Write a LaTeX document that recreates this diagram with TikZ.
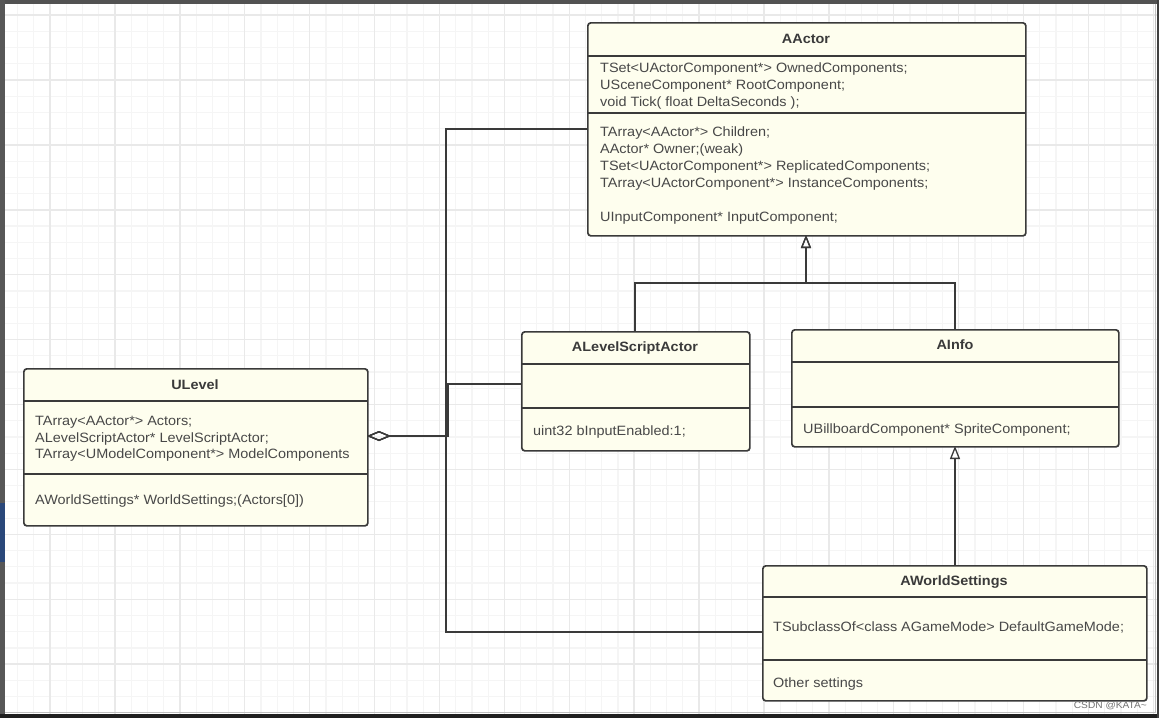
\documentclass[tikz,border=0pt]{standalone}
\usepackage{fontspec}
\setmainfont{Liberation Sans}[FakeStretch=1.07]
\usetikzlibrary{arrows.meta}
\definecolor{cream}{RGB}{254,254,238}
\definecolor{edge}{RGB}{58,58,58}
\definecolor{txt}{RGB}{72,72,72}
\definecolor{gminor}{RGB}{245,245,245}
\definecolor{gmajor}{RGB}{233,233,233}
\definecolor{navy}{RGB}{42,72,122}
\tikzset{
  classbox/.style={draw=edge, line width=1.7pt, fill=cream, rounded corners=3pt, anchor=north west, inner sep=0pt},
  divider/.style={draw=edge, line width=1.5pt},
  title/.style={font=\fontsize{13.5}{16}\selectfont\bfseries, text=txt!80!black, inner sep=0pt},
  attr/.style={font=\fontsize{13.5}{16.7}\selectfont, text=txt, anchor=base west, inner sep=0pt},
  conn/.style={draw=edge, line width=1.5pt},
  inh/.style={conn, -{Triangle[open, length=13pt, width=10pt, line width=1.3pt]}},
  agg/.style={conn, -{Diamond[open, length=24pt, width=10pt, line width=1.3pt]}},
}
\begin{document}
\begin{tikzpicture}[x=1pt, y=-1pt]
\useasboundingbox (0,0) rectangle (1159,718);
% background and grid
\fill[white] (0,0) rectangle (1159,718);
\foreach \i in {0,...,72} {
  \draw[gminor, line width=1.2pt] ({1.4+\i*16.225},0) -- ({1.4+\i*16.225},718);
}
\foreach \i in {0,...,45} {
  \draw[gminor, line width=1.2pt] (0,{-1.1+\i*16.225}) -- (1159,{-1.1+\i*16.225});
}
\foreach \i in {0,...,18} {
  \draw[gmajor, line width=1.4pt] ({50+\i*64.9-64.9},0) -- ({50+\i*64.9-64.9},718);
}
\foreach \i in {0,...,11} {
  \draw[gmajor, line width=1.4pt] (0,{80+\i*64.9-64.9}) -- (1159,{80+\i*64.9-64.9});
}
% frame
\fill[black!68] (0,0) rectangle (1159,3.5);
\fill[black!66] (0,0) rectangle (5,718);
\fill[black!88] (0,714) rectangle (1159,718);
\fill[black!75] (1157,0) rectangle (1159,718);
\draw[black!25, line width=1pt] (1155.5,3.5) -- (1155.5,713);
\draw[black!25, line width=1pt] (5,712.5) -- (1156,712.5);
\fill[navy] (0,503) rectangle (5,562);

% AActor
\node[classbox, minimum width=438pt, minimum height=213pt] (aactor) at (587,22) {};
\draw[divider] (587,56) -- (1025,56);
\draw[divider] (587,113) -- (1025,113);
\node[title] (aactorT) at (806,39) {AActor};
\node[attr] (aa1) at (600,72) {TSet<UActorComponent*> OwnedComponents;};
\node[attr] (aa2) at (600,89) {USceneComponent* RootComponent;};
\node[attr] (aa3) at (600,106) {void Tick( float DeltaSeconds );};
\node[attr] (aa4) at (600,136) {TArray<AActor*> Children;};
\node[attr] (aa5) at (600,153) {AActor* Owner;(weak)};
\node[attr] (aa6) at (600,170) {TSet<UActorComponent*> ReplicatedComponents;};
\node[attr] (aa7) at (600,187) {TArray<UActorComponent*> InstanceComponents;};
\node[attr] (aa8) at (600,221) {UInputComponent* InputComponent;};

% ULevel
\node[classbox, minimum width=344pt, minimum height=157pt] (ulevel) at (23,368) {};
\draw[divider] (23,401) -- (367,401);
\draw[divider] (23,474) -- (367,474);
\node[title] (ulevelT) at (195,385) {ULevel};
\node[attr] (ul1) at (35,425) {TArray<AActor*> Actors;};
\node[attr] (ul2) at (35,442) {ALevelScriptActor* LevelScriptActor;};
\node[attr] (ul3) at (35,458) {TArray<UModelComponent*> ModelComponents};
\node[attr] (ul4) at (35,504) {AWorldSettings* WorldSettings;(Actors[0])};

% ALevelScriptActor
\node[classbox, minimum width=228pt, minimum height=119pt] (alsa) at (521,331) {};
\draw[divider] (521,364) -- (749,364);
\draw[divider] (521,408) -- (749,408);
\node[title] (alsaT) at (635,348) {ALevelScriptActor};
\node[attr] (al1) at (533,435) {uint32 bInputEnabled:1;};

% AInfo
\node[classbox, minimum width=327pt, minimum height=117pt] (ainfo) at (791,329) {};
\draw[divider] (791,362) -- (1118,362);
\draw[divider] (791,407) -- (1118,407);
\node[title] (ainfoT) at (955,345) {AInfo};
\node[attr] (ai1) at (803,433) {UBillboardComponent* SpriteComponent;};

% AWorldSettings
\node[classbox, minimum width=384pt, minimum height=135pt] (aws) at (762,565) {};
\draw[divider] (762,597) -- (1146,597);
\draw[divider] (762,660) -- (1146,660);
\node[title] (awsT) at (954,582) {AWorldSettings};
\node[attr] (aw1) at (773,631) {TSubclassOf<class AGameMode> DefaultGameMode;};
\node[attr] (aw2) at (773,687) {Other settings};

% watermark
\node[font=\fontsize{9.5}{10}\selectfont, text=black!55, anchor=base east, inner sep=0pt] (wm) at (1147,708) {CSDN @KATA\textasciitilde};

% connection points
\coordinate (aactorB) at (806,235);
\coordinate (aactorL) at (588,129);
\coordinate (alsaTop) at (635,331);
\coordinate (alsaL) at (521,384);
\coordinate (ainfoTop) at (955,329);
\coordinate (ainfoB) at (955,446);
\coordinate (awsTop) at (955,565);
\coordinate (awsL) at (762,632);
\coordinate (ulevelR) at (367,436);
\coordinate (hub) at (806,283);

% inheritance
\draw[inh] (alsaTop) |- (hub) -- (aactorB);
\draw[inh] (ainfoTop) |- (hub) -- (aactorB);
\draw[inh] (awsTop) -- (ainfoB);

% aggregation
\draw[agg] (aactorL) -- (446,129) -- (446,436) -- (ulevelR);
\draw[agg] (alsaL) -- (448,384) -- (448,436) -- (ulevelR);
\draw[agg] (awsL) -- (446,632) -- (446,436) -- (ulevelR);
\end{tikzpicture}
\end{document}
